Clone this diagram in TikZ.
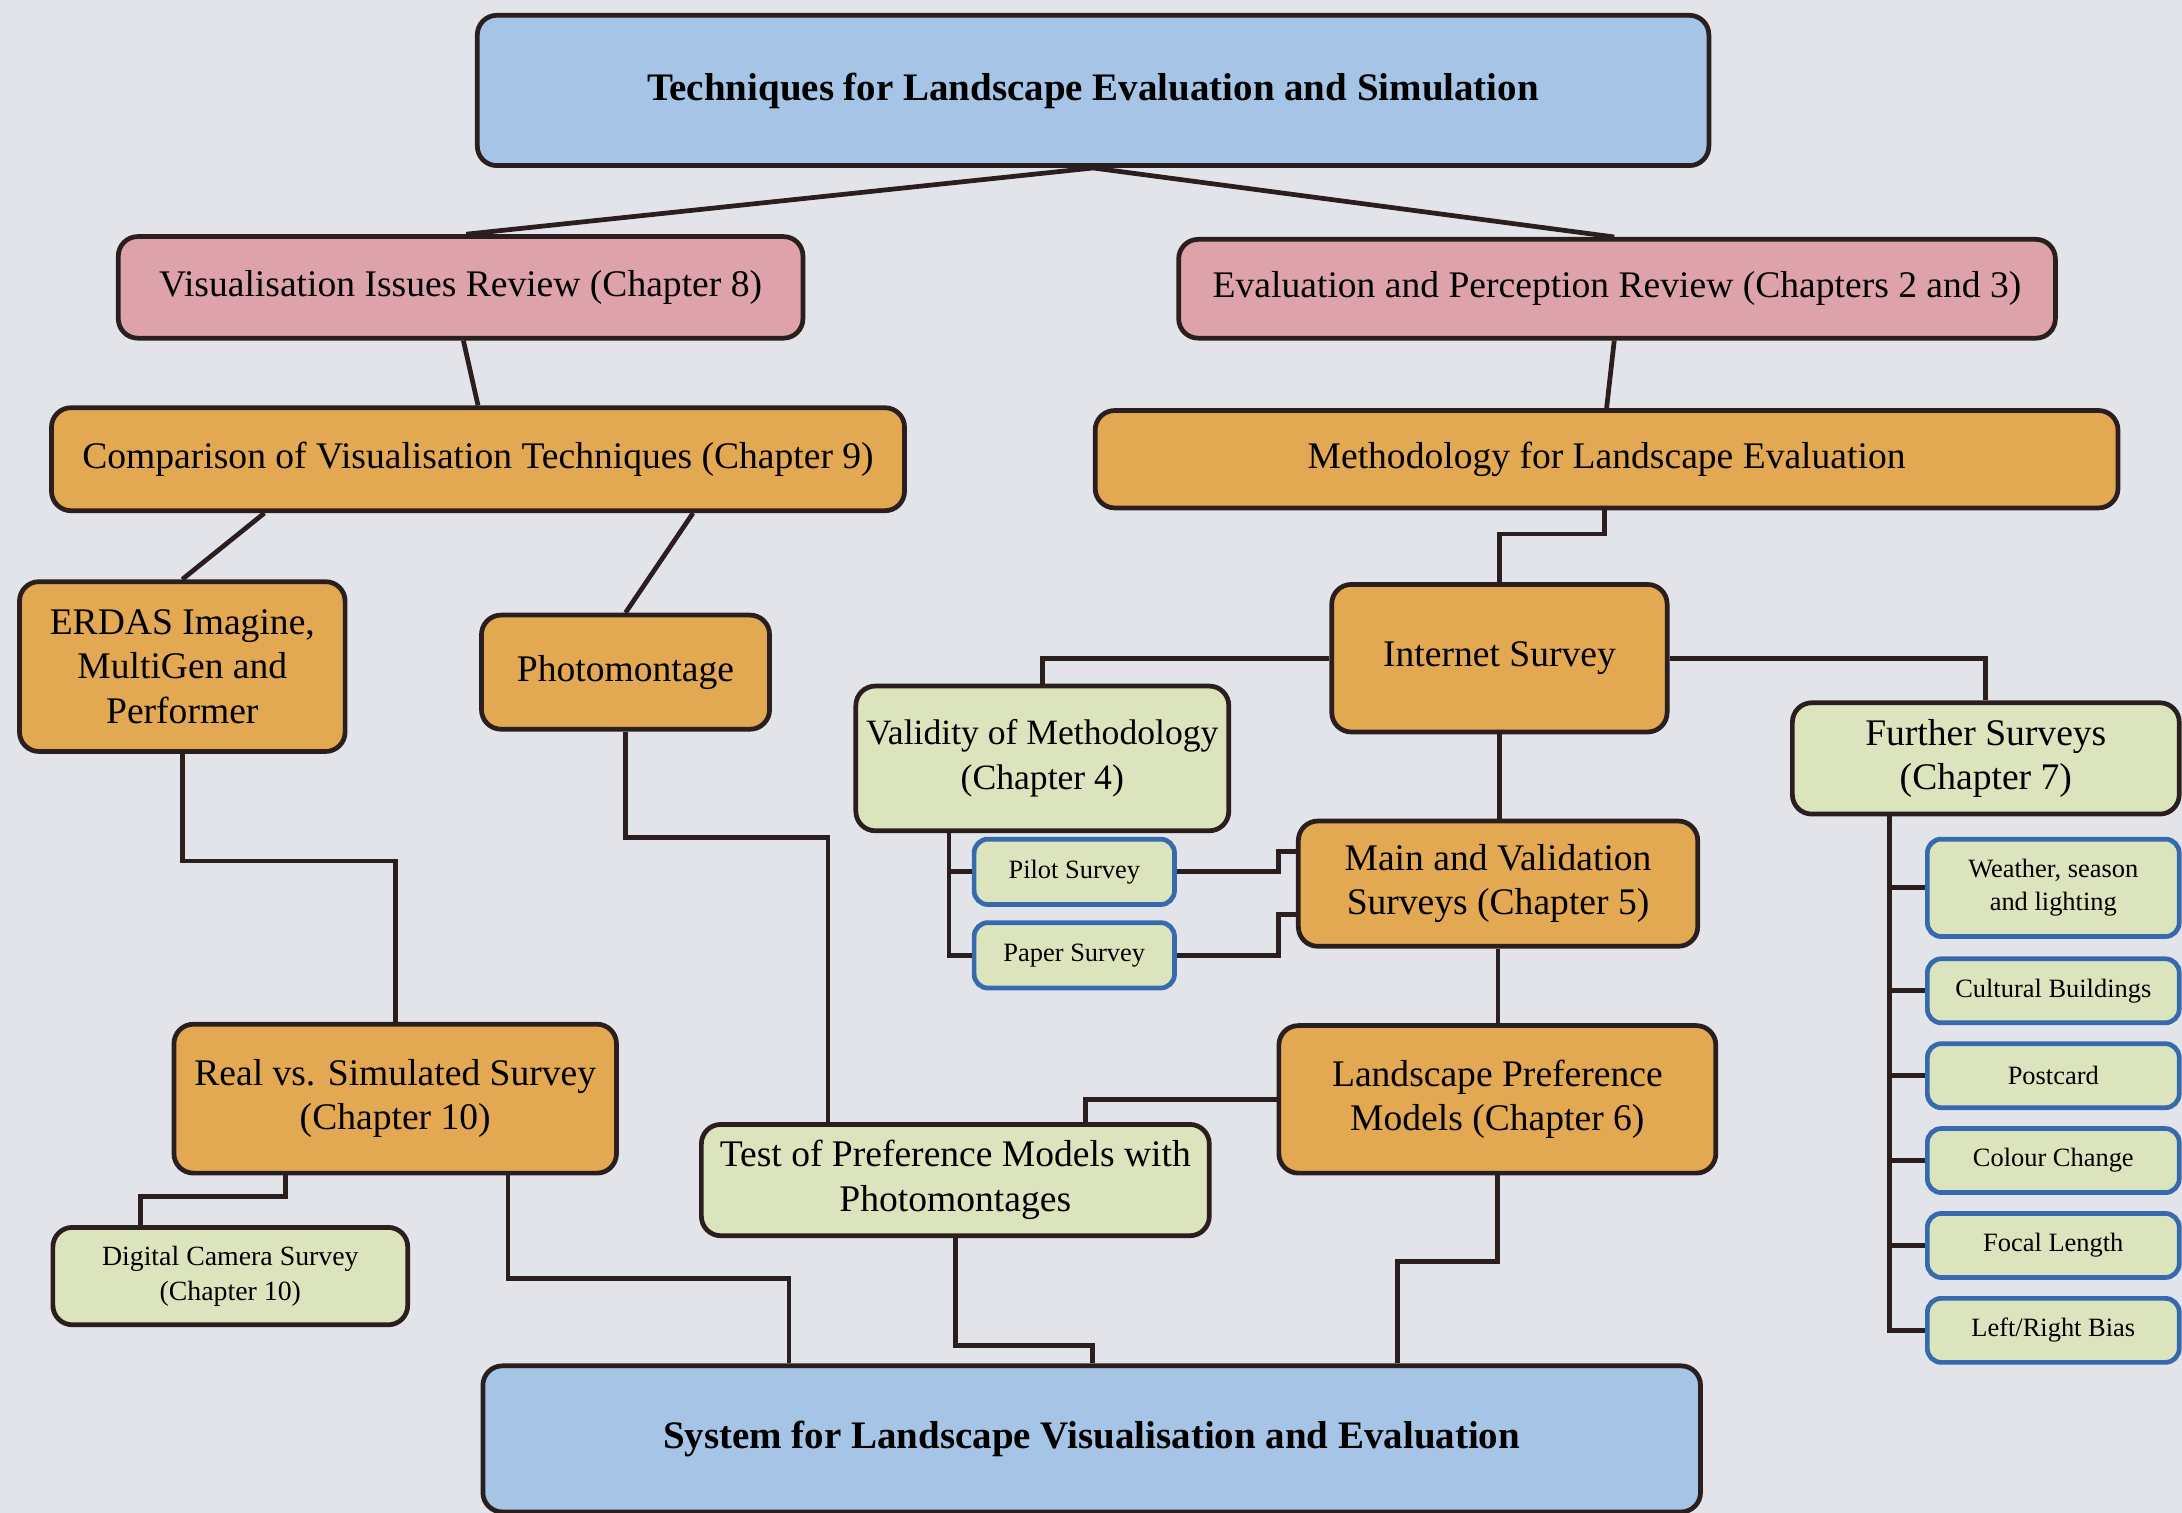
\documentclass[tikz,border=0pt]{standalone}
\usepackage{fontspec}
\setmainfont{Liberation Serif}
\usetikzlibrary{positioning,calc}
\definecolor{bgcol}{RGB}{227,228,234}
\definecolor{linecol}{RGB}{42,30,30}
\definecolor{bluecol}{RGB}{166,196,230}
\definecolor{pinkcol}{RGB}{222,163,170}
\definecolor{orangecol}{RGB}{226,168,82}
\definecolor{greencol}{RGB}{220,228,190}
\definecolor{rimcol}{RGB}{55,105,175}
\tikzset{
  box/.style={draw=linecol,line width=1.7pt,rounded corners=7pt,align=center,
    inner sep=2pt,font=\fontsize{13.5}{16}\selectfont},
  headbox/.style={box,fill=bluecol,font=\fontsize{14}{17}\selectfont\bfseries},
  reviewbox/.style={box,fill=pinkcol},
  stagebox/.style={box,fill=orangecol},
  studybox/.style={box,fill=greencol},
  subbox/.style={box,fill=greencol,draw=rimcol,rounded corners=5pt,
    font=\fontsize{9.5}{12}\selectfont},
  wire/.style={draw=linecol,line width=1.7pt}
}
\begin{document}
\begin{tikzpicture}[x=0.5pt,y=-0.5pt]
\useasboundingbox (0,0) rectangle (1568,1087);
\fill[bgcol] (0,0) rectangle (1568,1087);
%%
  % Node: Top
  \node[headbox,minimum width=442.5pt,minimum height=54pt] (top) at (785.5,65)
    {Techniques for Landscape Evaluation and Simulation};
  % Node: Vis
  \node[reviewbox,minimum width=246pt,minimum height=36.5pt] (vis) at (331,206.5)
    {Visualisation Issues Review (Chapter 8)};
  % Node: Eval
  \node[reviewbox,minimum width=315pt,minimum height=35.5pt] (eval) at (1162,207.5)
    {Evaluation and Perception Review (Chapters 2 and 3)};
  % Node: Comp
  \node[stagebox,minimum width=306.5pt,minimum height=37pt] (comp) at (343.5,330)
    {Comparison of Visualisation Techniques (Chapter 9)};
  % Node: Meth
  \node[stagebox,minimum width=367.5pt,minimum height=35pt] (meth) at (1154.5,330)
    {Methodology for Landscape Evaluation};
  % Node: Erdas
  \node[stagebox,minimum width=117pt,minimum height=61pt] (erdas) at (131,479)
    {ERDAS Imagine,\\MultiGen and\\Performer};
  % Node: Photo
  \node[stagebox,minimum width=103.5pt,minimum height=41pt] (photo) at (449.5,483)
    {Photomontage};
  % Node: Inet
  \node[stagebox,minimum width=120.5pt,minimum height=53pt] (inet) at (1077.5,473)
    {Internet Survey};
  % Node: Valid
  \node[studybox,minimum width=134pt,minimum height=52pt,
    font=\fontsize{12.8}{16}\selectfont] (valid) at (749,545)
    {Validity of Methodology\\(Chapter 4)};
  % Node: Further
  \node[studybox,minimum width=139pt,minimum height=40pt] (further) at (1427,545)
    {Further Surveys\\(Chapter 7)};
  % Node: Pilot
  \node[subbox,minimum width=72pt,minimum height=23.5pt] (pilot) at (772,626.5)
    {Pilot Survey};
  % Node: Paper
  \node[subbox,minimum width=72pt,minimum height=23.5pt] (paper) at (772,686.5)
    {Paper Survey};
  % Node: Main
  \node[stagebox,minimum width=143.5pt,minimum height=45pt] (main) at (1076.5,635)
    {Main and Validation\\Surveys (Chapter 5)};
  % Node: Lpm
  \node[stagebox,minimum width=157pt,minimum height=53pt] (lpm) at (1076,790)
    {Landscape Preference\\Models (Chapter 6)};
  % Node: Test
  \node[studybox,minimum width=182.5pt,minimum height=40pt] (test) at (686.5,848)
    {Test of Preference Models with\\Photomontages};
  % Node: Real
  \node[stagebox,minimum width=159pt,minimum height=53.5pt] (real) at (284,789.5)
    {Real vs. Simulated Survey\\(Chapter 10)};
  % Node: Digital
  \node[studybox,minimum width=127.5pt,minimum height=35pt,
    font=\fontsize{10}{12.5}\selectfont] (digital) at (165.5,917)
    {Digital Camera Survey\\(Chapter 10)};
  % Node: System
  \node[headbox,minimum width=437.5pt,minimum height=52.5pt] (system) at (784.5,1034)
    {System for Landscape Visualisation and Evaluation};
  % Nodes: Further surveys list
  \node[subbox,minimum width=90.5pt,minimum height=35pt] (weather) at (1475.5,638)
    {Weather, season\\and lighting};
  \node[subbox,minimum width=90.5pt,minimum height=23pt] (cultural) at (1475.5,712)
    {Cultural Buildings};
  \node[subbox,minimum width=90.5pt,minimum height=23pt] (postcard) at (1475.5,773)
    {Postcard};
  \node[subbox,minimum width=90.5pt,minimum height=23pt] (colour) at (1475.5,834)
    {Colour Change};
  \node[subbox,minimum width=90.5pt,minimum height=23pt] (focal) at (1475.5,895)
    {Focal Length};
  \node[subbox,minimum width=90.5pt,minimum height=23pt] (bias) at (1475.5,956)
    {Left/Right Bias};
%%
  % Edge: Top -> Vis
  \draw[wire] (top.south) -- (vis.north -| 335,0);
  % Edge: Top -> Eval
  \draw[wire] (top.south) -- (eval.north -| 1160,0);
  % Edge: Vis -> Comp
  \draw[wire] (vis.south -| 333,0) -- (comp.north);
  % Edge: Eval -> Meth
  \draw[wire] (eval.south -| 1160,0) -- (meth.north);
  % Edge: Comp -> Erdas
  \draw[wire] (comp.south -| 190,0) -- (erdas.north);
  % Edge: Comp -> Photo
  \draw[wire] (comp.south -| 498,0) -- (photo.north);
  % Edge: Meth -> Inet
  \draw[wire] (meth.south -| 1153,0) -- ++(0,17) -| (inet.north);
  % Edge: Inet -> Valid
  \draw[wire] (inet.west) -| (valid.north);
  % Edge: Inet -> Further
  \draw[wire] (inet.east) -| (further.north);
  % Edge: Inet -> Main
  \draw[wire] (inet.south) -- (main.north -| inet.south);
  % Edge: Valid -> Pilot, Paper
  \draw[wire] (valid.south -| 682,0) |- (pilot.west);
  \draw[wire] (valid.south -| 682,0) |- (paper.west);
  % Edge: Pilot -> Main
  \draw[wire] (pilot.east) -- ++(73,0) |- ([yshift=11.5pt]main.west);
  % Edge: Paper -> Main
  \draw[wire] (paper.east) -- ++(73,0) |- ([yshift=-11pt]main.west);
  % Edge: Main -> Lpm
  \draw[wire] (main.south) -- (lpm.north -| main.south);
  % Edge: Lpm -> Test
  \draw[wire] (lpm.west) -| (test.north -| 780,0);
  % Edge: Lpm -> System
  \draw[wire] (lpm.south) -- ++(0,62) -| (system.north -| 1004,0);
  % Edge: Test -> System
  \draw[wire] (test.south) -- ++(0,77) -| (system.north -| 785,0);
  % Edge: Photo -> Test
  \draw[wire] (photo.south) -- ++(0,76) -| (test.north -| 595,0);
  % Edge: Erdas -> Real
  \draw[wire] (erdas.south) -- ++(0,77) -| (real.north);
  % Edge: Real -> Digital
  \draw[wire] (real.south -| 205,0) -- ++(0,15) -| (digital.north -| 101,0);
  % Edge: Real -> System
  \draw[wire] (real.south -| 365,0) -- ++(0,74) -| (system.north -| 567,0);
  % Edge: Further -> list
  \foreach \n in {weather,cultural,postcard,colour,focal,bias}
    \draw[wire] (further.south -| 1358,0) |- (\n.west);
%
\end{tikzpicture}
\end{document}
